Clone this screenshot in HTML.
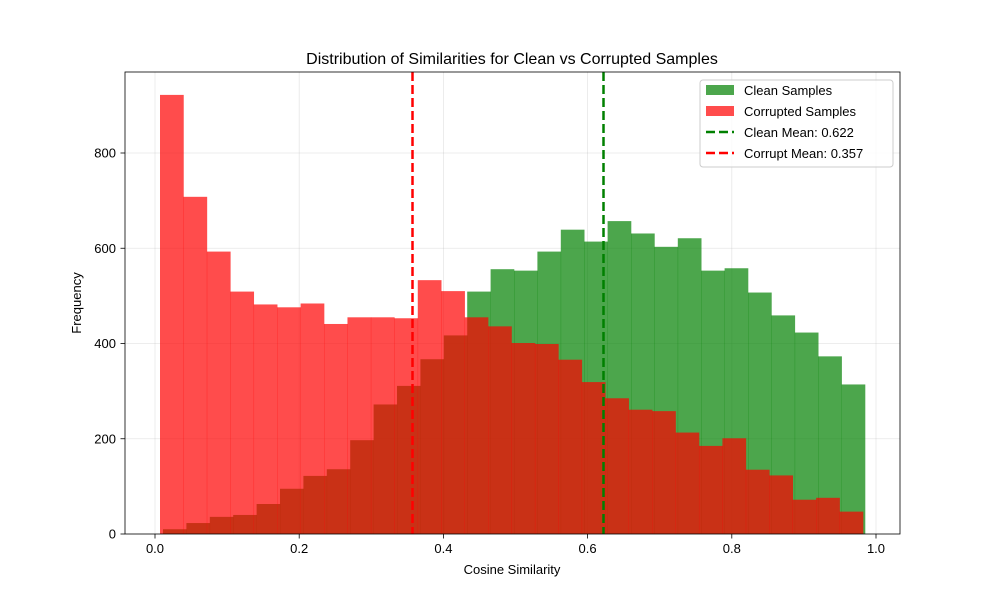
<!DOCTYPE html>
<html><head><meta charset="utf-8"><style>
body{margin:0;background:#fff}
svg{display:block;font-family:"Liberation Sans","DejaVu Sans",sans-serif}
</style></head><body>
<svg id="s" width="1000" height="600" viewBox="0 0 1000 600" xmlns="http://www.w3.org/2000/svg">
<rect width="1000" height="600" fill="#fff"/>
<g id="grid" stroke="#b0b0b0" stroke-opacity="0.3" stroke-width="0.8"></g>
<g id="bars"></g>
<line x1="603.5" y1="72" x2="603.5" y2="534" stroke="#008000" stroke-width="2.5" stroke-dasharray="9,4"/>
<line x1="412.5" y1="72" x2="412.5" y2="534" stroke="#ff0000" stroke-width="2.5" stroke-dasharray="9,4"/>
<rect x="125" y="72" width="775" height="462" fill="none" stroke="#000" stroke-width="0.8"/>
<g id="ticks" font-size="13" fill="#000"></g>
<text x="512" y="64" font-size="16" text-anchor="middle">Distribution of Similarities for Clean vs Corrupted Samples</text>
<text x="512" y="574" font-size="13" text-anchor="middle">Cosine Similarity</text>
<text x="81" y="303" font-size="13" text-anchor="middle" transform="rotate(-90 81 303)">Frequency</text>
<g>
<rect x="700" y="80" width="193" height="87" rx="3" fill="#fff" fill-opacity="0.8" stroke="#ccc"/>
<rect x="706" y="85" width="28" height="10" fill="#008000" fill-opacity="0.7"/>
<text x="744" y="95" font-size="13">Clean Samples</text>
<rect x="706" y="106" width="28" height="10" fill="#ff0000" fill-opacity="0.7"/>
<text x="744" y="116" font-size="13">Corrupted Samples</text>
<line x1="706" y1="132" x2="734" y2="132" stroke="#008000" stroke-width="2.5" stroke-dasharray="9,4"/>
<text x="744" y="137" font-size="13">Clean Mean: 0.622</text>
<line x1="706" y1="153" x2="734" y2="153" stroke="#ff0000" stroke-width="2.5" stroke-dasharray="9,4"/>
<text x="744" y="158" font-size="13">Corrupt Mean: 0.357</text>
</g>
</svg>
<script>
var NS="http://www.w3.org/2000/svg";
function X(v){return 155+v*721}
function Y(v){return 534-v*0.47625}
function el(p,t,a,txt){var e=document.createElementNS(NS,t);for(var k in a)e.setAttribute(k,a[k]);if(txt)e.textContent=txt;document.getElementById(p).appendChild(e);}
var green=[10,23,36,40,63,95,122,136,197,272,311,367,417,509,556,553,593,639,614,657,631,603,621,553,558,507,459,423,373,314];
var red=[922,708,593,509,482,476,484,441,455,455,453,533,510,455,436,401,399,366,319,285,261,258,213,185,201,135,123,72,76,47];
function draw(d,x0,x1,c){var w=(x1-x0)/d.length;for(var i=0;i<d.length;i++){el("bars","rect",{x:x0+i*w,y:Y(d[i]),width:w+0.3,height:534-Y(d[i]),fill:c,"fill-opacity":0.7});}}
draw(green,163,865,"#008000");
draw(red,160,863,"#ff0000");
for(var i=0;i<=5;i++){var v=i*0.2,x=X(v);
el("grid","line",{x1:x,y1:72,x2:x,y2:534});
el("ticks","line",{x1:x,y1:534,x2:x,y2:538.5,stroke:"#000","stroke-width":0.8});
el("ticks","text",{x:x,y:553,"text-anchor":"middle"},v.toFixed(1));}
for(var j=0;j<=800;j+=200){var y=Y(j);
el("grid","line",{x1:125,y1:y,x2:900,y2:y});
el("ticks","line",{x1:120.5,y1:y,x2:125,y2:y,stroke:"#000","stroke-width":0.8});
el("ticks","text",{x:116,y:y+4.5,"text-anchor":"end"},String(j));}
</script>
</body></html>
